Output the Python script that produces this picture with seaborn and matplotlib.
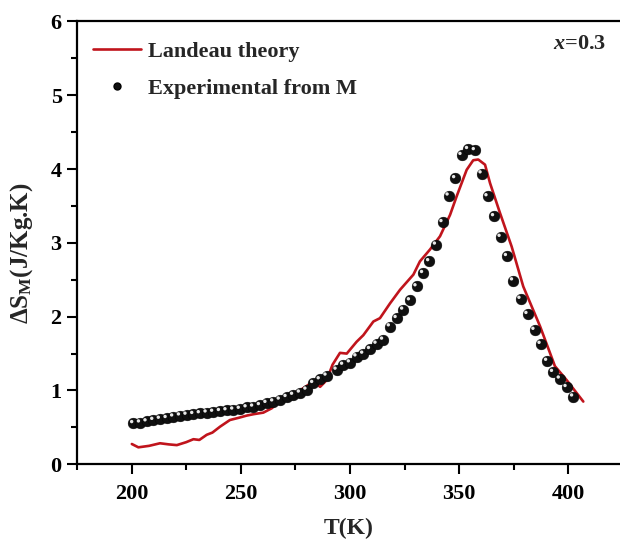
import matplotlib
matplotlib.use("Agg")
import matplotlib.pyplot as plt
import matplotlib.transforms as mtransforms
from matplotlib.lines import Line2D
from matplotlib.ticker import MultipleLocator
import seaborn as sns
import pandas as pd

# Landau-model entropy change (red curve)
landau_T = [200.1, 203.1, 208.0, 213.0, 217.0, 220.7, 225.0, 228.3, 231.0, 234.4,
            237.0, 240.5, 245.0, 249.0, 252.7, 256.0, 260.3, 264.2, 268.0, 274.0,
            278.0, 283.2, 286.3, 289.3, 292.0, 295.4, 298.5, 303.0, 306.1, 310.7,
            313.7, 318.3, 322.9, 329.0, 332.0, 336.6, 341.2, 345.8, 348.8, 353.4,
            356.4, 358.7, 361.8, 364.1, 368.6, 374.0, 379.3, 387.0, 393.8, 399.2,
            406.8]
landau_dS = [0.275, 0.23, 0.25, 0.285, 0.27, 0.26, 0.30, 0.34, 0.33, 0.40,
             0.43, 0.51, 0.60, 0.63, 0.66, 0.68, 0.70, 0.76, 0.87, 0.96,
             1.02, 1.12, 1.05, 1.14, 1.35, 1.51, 1.50, 1.66, 1.75, 1.935,
             1.98, 2.18, 2.365, 2.57, 2.75, 2.91, 3.09, 3.38, 3.63, 3.99,
             4.12, 4.13, 4.06, 3.81, 3.41, 2.95, 2.41, 1.87, 1.33, 1.14,
             0.85]

# Entropy change derived from magnetization isotherms (points)
exp_T = [200.8, 203.9, 206.9, 210.0, 213.0, 216.1, 219.1, 222.2, 225.2, 228.3,
         231.3, 234.4, 237.4, 240.5, 243.5, 246.6, 249.6, 252.7, 255.7, 258.8,
         261.8, 264.9, 267.9, 271.0, 274.0, 277.1, 280.1, 283.2, 286.2, 289.3,
         293.9, 296.9, 300.0, 303.0, 306.1, 309.2, 312.2, 315.2, 318.3, 321.4,
         324.4, 327.5, 330.5, 333.5, 336.3, 339.4, 342.4, 345.2, 348.2, 351.1,
         354.1, 357.2, 360.3, 363.0, 366.0, 369.0, 371.9, 374.7, 378.1, 381.3,
         384.5, 387.3, 390.3, 393.0, 396.1, 399.2, 402.2]
exp_dS = [0.556, 0.565, 0.58, 0.60, 0.615, 0.625, 0.646, 0.66, 0.67, 0.68,
          0.69, 0.70, 0.71, 0.72, 0.73, 0.74, 0.75, 0.77, 0.78, 0.80,
          0.83, 0.85, 0.875, 0.91, 0.94, 0.97, 1.01, 1.10, 1.15, 1.20,
          1.28, 1.347, 1.379, 1.46, 1.497, 1.56, 1.632, 1.687, 1.867, 1.98,
          2.094, 2.22, 2.41, 2.59, 2.75, 2.975, 3.28, 3.64, 3.875, 4.19,
          4.27, 4.255, 3.94, 3.63, 3.36, 3.08, 2.82, 2.49, 2.24, 2.035,
          1.82, 1.63, 1.40, 1.25, 1.16, 1.045, 0.917]

x_ticks = [200, 250, 300, 350, 400]
y_ticks = [0, 1, 2, 3, 4, 5, 6]

sns.set_theme(style="white")
plt.rcParams["font.family"] = ["Liberation Serif", "DejaVu Serif"]
plt.rcParams["font.weight"] = "bold"
plt.rcParams["mathtext.fontset"] = "custom"
plt.rcParams["mathtext.rm"] = "Liberation Serif:bold"
plt.rcParams["mathtext.bf"] = "Liberation Serif:bold"
plt.rcParams["mathtext.it"] = "Liberation Serif:italic:bold"

red = "#c0141c"
df_l = pd.DataFrame({"T": landau_T, "dS": landau_dS})
df_e = pd.DataFrame({"T": exp_T, "dS": exp_dS})

fig = plt.figure(figsize=(6.2, 5.49), dpi=100)
ax = fig.add_axes([77 / 620, 1 - 464.3 / 549, 1 - 77 / 620, (464.3 - 21.5) / 549])

sns.lineplot(data=df_l, x="T", y="dS", ax=ax, color=red, linewidth=1.9,
             sort=False, zorder=2)
sns.scatterplot(data=df_e, x="T", y="dS", ax=ax, color="#101010", s=60,
                edgecolor="#000000", linewidth=0.3, zorder=3)
# specular highlight on each sphere
hl = mtransforms.offset_copy(ax.transData, fig=fig, x=-1.7, y=1.7, units="dots")
ax.scatter(exp_T, exp_dS, s=6, color="#e8e8e8", edgecolor="none",
           transform=hl, zorder=4)

ax.set_xlim(175, 423.6)
ax.set_ylim(0, 6)
ax.set_xticks(x_ticks)
ax.set_yticks(y_ticks)
ax.xaxis.set_minor_locator(MultipleLocator(25))
ax.yaxis.set_minor_locator(MultipleLocator(0.5))
ax.tick_params(axis="both", which="major", direction="out", length=7, width=1.5,
               labelsize=16, colors="black")
ax.tick_params(axis="x", which="major", pad=7)
ax.tick_params(axis="y", which="major", pad=4)
ax.tick_params(axis="both", which="minor", direction="out", length=4, width=1.5,
               colors="black")
ax.tick_params(bottom=True, left=True, which="both")
for lab in ax.get_xticklabels() + ax.get_yticklabels():
    lab.set_fontweight("bold")

for side in ("left", "bottom", "top"):
    ax.spines[side].set_visible(True)
    ax.spines[side].set_color("black")
    ax.spines[side].set_linewidth(1.6)
ax.spines["right"].set_visible(False)

ax.set_xlabel("T(K)", fontsize=17, fontweight="bold", labelpad=10)
ax.set_ylabel(r"ΔS$_\mathregular{M}$(J/Kg.K)", fontsize=18, fontweight="bold")
ax.yaxis.set_label_coords(-0.078, 0.477)

handles = [
    Line2D([], [], color=red, linewidth=1.9),
    Line2D([], [], linestyle="none", marker="o", markersize=5,
           markerfacecolor="#101010", markeredgecolor="black"),
]
ax.legend(handles, ["Landeau theory", "Experimental from M"], loc="upper left",
          bbox_to_anchor=(0.0, 0.99), frameon=False,
          handlelength=2.2, handletextpad=0.3, labelspacing=0.72,
          borderaxespad=0.3, prop={"weight": "bold", "size": 16})

ax.text(0.975, 0.972, r"$\it{x}$=0.3", transform=ax.transAxes, ha="right",
        va="top", fontsize=16, fontweight="bold")

fig.savefig("out.png", dpi=100)
